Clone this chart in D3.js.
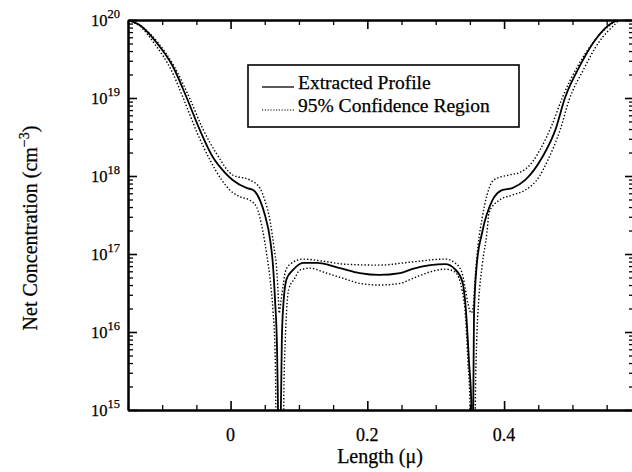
<!DOCTYPE html>
<html>
<head>
<meta charset="utf-8">
<script src="https://cdn.jsdelivr.net/npm/d3@7"></script>
<style>
  body { margin: 0; background: #fff; }
  svg { display: block; }
  text { font-family: 'Liberation Serif', 'Times New Roman', Times, serif; fill: #000; stroke: #000; stroke-width: 0.25; }
</style>
</head>
<body>
<svg id="chart"></svg>
<script>
const svgWidth = 632
const svgHeight = 472

const margin = { left: 128, right: -2, top: 20, bottom: 62 }
const width = svgWidth - margin.left - margin.right
const height = svgHeight - margin.top - margin.bottom

// Extracted profile, length in microns, net concentration in cm^-3
const profileX = [-0.150, -0.133, -0.108, -0.084, -0.064, -0.045, -0.026, -0.008, 0.003, 0.024,
    0.033, 0.043, 0.050, 0.058, 0.062, 0.065, 0.068, 0.069, 0.071, 0.074,
    0.075, 0.077, 0.082, 0.091, 0.106, 0.126, 0.160, 0.189, 0.217, 0.248,
    0.265, 0.292, 0.314, 0.328, 0.339, 0.344, 0.349, 0.352, 0.353, 0.355,
    0.356, 0.360, 0.368, 0.383, 0.397, 0.412, 0.431, 0.456, 0.475, 0.489,
    0.510, 0.533, 0.558, 0.568, 0.590]
const profileN = [1.0e20, 8.6e19, 5.1e19, 2.5e19, 1.0e19, 3.9e18, 1.75e18, 1.1e18, 8.9e17, 7.0e17,
    6.6e17, 4.9e17, 3.2e17, 1.5e17, 7.2e16, 2.6e16, 5.9e15, 1.8e15, 1e14, 1.8e15,
    7.9e15, 2.1e16, 4.8e16, 6.2e16, 7.7e16, 7.7e16, 6.6e16, 5.7e16, 5.4e16, 5.7e16,
    6.4e16, 7.2e16, 7.4e16, 6.4e16, 4.4e16, 2.0e16, 3.8e15, 1.3e15, 1e14, 1.3e15,
    1.65e16, 7.2e16, 1.9e17, 4.9e17, 6.6e17, 7.0e17, 8.9e17, 1.75e18, 3.9e18, 1.0e19,
    2.5e19, 5.5e19, 9.2e19, 1.0e20, 1.0e20]

// 95% confidence region, upper edge
const upperX = [-0.150, -0.133, -0.106, -0.082, -0.060, -0.041, -0.020, 0.003, 0.028, 0.043,
    0.050, 0.058, 0.063, 0.068, 0.070, 0.071, 0.074, 0.077, 0.080, 0.087,
    0.106, 0.135, 0.167, 0.217, 0.265, 0.314, 0.328, 0.338, 0.343, 0.347,
    0.352, 0.355, 0.358, 0.362, 0.368, 0.375, 0.385, 0.407, 0.422, 0.441,
    0.453, 0.470, 0.485, 0.507, 0.530, 0.555, 0.567, 0.590]
const upperN = [1.0e20, 8.6e19, 5.1e19, 2.5e19, 1.0e19, 4.1e18, 1.9e18, 1.03e18, 8.9e17, 7.0e17,
    4.9e17, 2.6e17, 1.3e17, 5.4e16, 2.6e16, 1.75e16, 2.6e16, 4.0e16, 5.9e16, 7.4e16,
    8.6e16, 8.1e16, 7.4e16, 7.2e16, 7.9e16, 8.6e16, 7.7e16, 5.9e16, 3.7e16, 2.35e16,
    1.75e16, 2.2e16, 5.4e16, 1.3e17, 2.9e17, 5.7e17, 8.9e17, 1.03e18, 1.1e18, 1.5e18,
    2.2e18, 4.5e18, 1.0e19, 2.5e19, 5.1e19, 8.6e19, 1.0e20, 1.0e20]

// 95% confidence region, lower edge
const lowerX = [-0.150, -0.133, -0.110, -0.087, -0.068, -0.049, -0.030, -0.013, -0.001, 0.014,
    0.028, 0.038, 0.047, 0.053, 0.058, 0.062, 0.065, 0.066, 0.067, 0.077,
    0.078, 0.080, 0.082, 0.085, 0.094, 0.101, 0.116, 0.135, 0.167, 0.189,
    0.217, 0.248, 0.265, 0.292, 0.314, 0.328, 0.339, 0.344, 0.347, 0.350,
    0.351, 0.357, 0.358, 0.360, 0.363, 0.368, 0.375, 0.378, 0.393, 0.412,
    0.431, 0.451, 0.464, 0.482, 0.495, 0.516, 0.538, 0.561, 0.570, 0.590]
const lowerN = [1.0e20, 8.4e19, 4.8e19, 2.3e19, 9.4e18, 3.6e18, 1.6e18, 8.9e17, 6.6e17, 5.4e17,
    4.9e17, 4.0e17, 2.0e17, 9.7e16, 4.6e16, 1.9e16, 5.9e15, 1.8e15, 1e14, 1e14,
    1.8e15, 7.9e15, 1.9e16, 3.5e16, 4.9e16, 6.2e16, 6.6e16, 5.9e16, 4.8e16, 4.2e16,
    4.0e16, 4.2e16, 4.8e16, 5.9e16, 6.4e16, 5.9e16, 3.3e16, 1.4e16, 4.4e15, 1.3e15,
    1e14, 1e14, 1.3e15, 7.9e15, 2.6e16, 7.2e16, 1.9e17, 3.4e17, 4.9e17, 5.7e17,
    6.6e17, 9.7e17, 1.6e18, 3.9e18, 9.4e18, 2.3e19, 5.1e19, 8.6e19, 1.0e20, 1.0e20]

const yExponents = [15, 16, 17, 18, 19, 20]
const xTickValues = [0, 0.2, 0.4]
const xTickLabels = ['0', '0.2', '0.4']
const legendLabels = ['Extracted Profile', '95% Confidence Region']

const svg = d3.select('#chart')
    .attr('width', svgWidth)
    .attr('height', svgHeight)

const chart = svg.append('g')
    .attr('transform', `translate(${[margin.left, margin.top]})`)

const x = d3.scaleLinear()
    .domain([-0.15, 0.59])
    .range([0, width])

const y = d3.scaleLog()
    .domain([1e15, 1e20])
    .range([height, 0])

const yMajor = yExponents.map(e => Math.pow(10, e))
const yMinor = y.ticks().filter(v => !yMajor.some(m => Math.abs(m - v) / m < 1e-6))
const xMinor = d3.range(-0.15, 0.6, 0.05).filter(v => !xTickValues.some(t => Math.abs(t - v) < 1e-6))

const styleAxis = (g, major) => {
    g.selectAll('.tick line').attr('stroke', '#000').attr('stroke-width', major ? 1.6 : 1.3)
    g.select('.domain').attr('stroke', '#000').attr('stroke-width', 2)
}

// frame with inward ticks on all four sides
const addAxis = (axisFn, scale, values, size, transform, major) => {
    chart.append('g')
        .attr('transform', transform)
        .call(axisFn(scale).tickValues(values).tickSize(size).tickSizeOuter(0).tickFormat(''))
        .call(g => styleAxis(g, major))
}
addAxis(d3.axisRight, y, yMinor, 5, 'translate(0,0)', false)
addAxis(d3.axisRight, y, yMajor, 9, 'translate(0,0)', true)
addAxis(d3.axisLeft, y, yMinor, 5, `translate(${width},0)`, false)
addAxis(d3.axisLeft, y, yMajor, 9, `translate(${width},0)`, true)
addAxis(d3.axisTop, x, xMinor, 5, `translate(0,${height})`, false)
addAxis(d3.axisTop, x, xTickValues, 9, `translate(0,${height})`, true)
addAxis(d3.axisBottom, x, xMinor, 5, 'translate(0,0)', false)
addAxis(d3.axisBottom, x, xTickValues, 9, 'translate(0,0)', true)

// y tick labels 10^n
const yLabels = chart.append('g')
    .selectAll('text')
    .data(yExponents)
    .join('text')
    .attr('x', -8)
    .attr('y', d => y(Math.pow(10, d)) + 6)
    .attr('text-anchor', 'end')
    .attr('font-size', 16.5)
yLabels.append('tspan').text('10')
yLabels.append('tspan')
    .attr('dy', -8)
    .attr('font-size', 12.5)
    .text(d => d)

// x tick labels
chart.append('g')
    .selectAll('text')
    .data(xTickValues)
    .join('text')
    .attr('x', d => x(d))
    .attr('y', height + 31)
    .attr('text-anchor', 'middle')
    .attr('font-size', 18)
    .text((d, i) => xTickLabels[i])

// axis titles
chart.append('text')
    .attr('x', (632 - margin.left) / 2)
    .attr('y', height + 53)
    .attr('text-anchor', 'middle')
    .attr('font-size', 20)
    .text('Length (μ)')

const yTitle = chart.append('text')
    .attr('transform', `translate(${[-91, height / 2 + 13]}) rotate(-90)`)
    .attr('text-anchor', 'middle')
    .attr('font-size', 20)
yTitle.append('tspan').text('Net Concentration (cm')
yTitle.append('tspan').attr('dy', -8).attr('font-size', 14).text('−3')
yTitle.append('tspan').attr('dy', 8).text(')')

// curves
svg.append('defs').append('clipPath')
    .attr('id', 'plot-clip')
    .append('rect')
    .attr('width', width)
    .attr('height', height)

const line = d3.line()
    .x(d => x(d[0]))
    .y(d => y(d[1]))
    .curve(d3.curveMonotoneX)

const curves = chart.append('g').attr('clip-path', 'url(#plot-clip)')

curves.append('path')
    .datum(d3.zip(upperX, upperN))
    .attr('d', line)
    .attr('fill', 'none')
    .attr('stroke', '#000')
    .attr('stroke-width', 1.4)
    .attr('stroke-dasharray', '1.4,2')

curves.append('path')
    .datum(d3.zip(lowerX, lowerN))
    .attr('d', line)
    .attr('fill', 'none')
    .attr('stroke', '#000')
    .attr('stroke-width', 1.4)
    .attr('stroke-dasharray', '1.4,2')

curves.append('path')
    .datum(d3.zip(profileX, profileN))
    .attr('d', line)
    .attr('fill', 'none')
    .attr('stroke', '#000')
    .attr('stroke-width', 1.8)

// legend
const legend = svg.append('g')
    .attr('transform', 'translate(248,65)')

legend.append('rect')
    .attr('width', 271)
    .attr('height', 62)
    .attr('fill', '#fff')
    .attr('stroke', '#000')
    .attr('stroke-width', 1.6)

const legendRows = legend.selectAll('g.row')
    .data(legendLabels)
    .join('g')
    .attr('class', 'row')
    .attr('transform', (d, i) => `translate(0,${22 + i * 23})`)

legendRows.append('line')
    .attr('x1', 14)
    .attr('x2', 46)
    .attr('stroke', '#000')
    .attr('stroke-width', (d, i) => i === 0 ? 1.3 : 1.2)
    .attr('stroke-dasharray', (d, i) => i === 0 ? null : '1.2,1.6')

legendRows.append('text')
    .attr('x', 50)
    .attr('y', 2)
    .attr('font-size', 19.5)
    .text(d => d)
</script>
</body>
</html>
